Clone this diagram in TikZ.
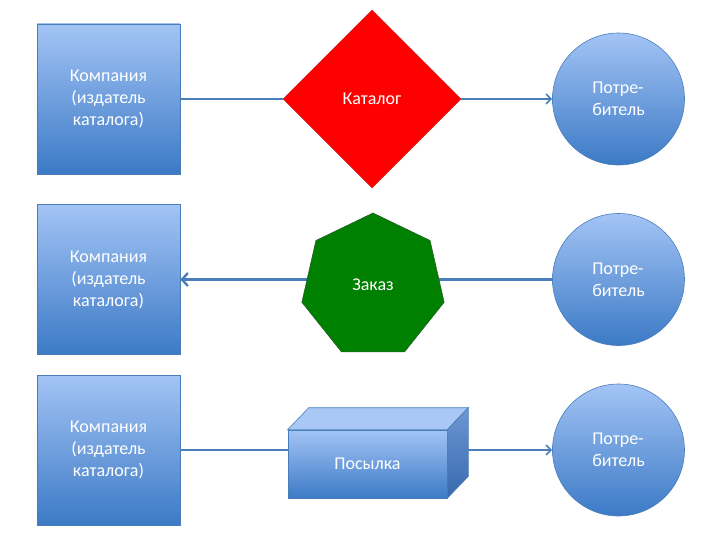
\documentclass[tikz,border=0pt]{standalone}
\usepackage{fontspec}
\setmainfont{Carlito}
\usetikzlibrary{shapes.geometric,arrows.meta,calc}
\definecolor{gtop}{RGB}{163,196,245}
\definecolor{gbot}{RGB}{60,122,198}
\definecolor{edgeblue}{RGB}{74,126,187}
\definecolor{lineblue}{RGB}{74,126,187}
\definecolor{boxtop}{RGB}{170,200,245}
\definecolor{sidetop}{RGB}{110,150,210}
\definecolor{sidebot}{RGB}{55,105,175}
\definecolor{diared}{RGB}{255,0,0}
\definecolor{diaedge}{RGB}{200,30,30}
\definecolor{hepgreen}{RGB}{0,128,0}
\definecolor{hepedge}{RGB}{40,90,40}
\tikzset{
  txt/.style={font=\fontsize{18}{22}\selectfont, text=white},
  company/.style={txt, rectangle, draw=edgeblue, line width=0.6pt, top color=gtop, bottom color=gbot,
    minimum width=143pt, minimum height=150pt, inner sep=0pt, align=center},
  consumer/.style={txt, circle, draw=edgeblue, line width=0.6pt, top color=gtop, bottom color=gbot,
    minimum size=132pt, inner sep=0pt, align=left},
  conn/.style={draw=lineblue, line width=1.8pt},
  tip/.style={-{Straight Barb[length=5pt,width=10pt,line width=1.6pt]}},
}
\begin{document}
\begin{tikzpicture}[x=1pt,y=-1pt]
\useasboundingbox (0,0) rectangle (720,540);
\fill[white] (0,0) rectangle (720,540);

% companies
\node[company] (comp1) at (108.5,99) {Компания\\(издатель\\каталога)};
\node[company] (comp2) at (108.5,279.5) {Компания\\(издатель\\каталога)};
\node[company] (comp3) at (108.5,450) {Компания\\(издатель\\каталога)};

% consumers
\node[consumer] (cons1) at (618.5,99) {Потре-\\битель};
\node[consumer] (cons2) at (618.5,279.5) {Потре-\\битель};
\node[consumer] (cons3) at (618.5,450) {Потре-\\битель};

% catalog diamond
\node[txt, diamond, aspect=1, fill=diared, draw=diaedge, line width=0.5pt,
  minimum width=178pt, minimum height=178pt, inner sep=0pt] (dia) at (372,99) {Каталог};

% parcel box (front face)
\node[txt, rectangle, draw=edgeblue, line width=0.6pt, top color=gtop, bottom color=gbot,
  minimum width=159pt, minimum height=68pt, inner sep=0pt] (box) at (367.5,464) {Посылка};
\fill[boxtop, draw=edgeblue, line width=0.6pt]
  (box.north west) -- ++(21,-22) -- ($(box.north east)+(21,-22)$) -- (box.north east) -- cycle;
\shade[top color=sidetop, bottom color=sidebot, draw=edgeblue, line width=0.6pt]
  (box.north east) -- ++(21,-22) -- ($(box.south east)+(21,-22)$) -- (box.south east) -- cycle;
\coordinate (boxback) at ($(box.east)+(21,0)$);

% connectors
\draw[conn] (comp1.east) -- (dia.west);
\draw[conn, tip] (dia.east) -- (cons1.west);

\draw[conn, line width=3.2pt, -{Straight Barb[length=6pt,width=13pt,line width=2.4pt]}] (cons2.west) -- (comp2.east);

\draw[conn] (comp3.east) -- (comp3.east -| box.west);
\draw[conn, tip] (cons3.west -| boxback) -- (cons3.west);

% order heptagon
\node[txt, regular polygon, regular polygon sides=7, fill=hepgreen,
  draw=hepedge, line width=0.5pt, minimum size=146pt, inner sep=0pt] (hep) at (373,286) {};
\node[txt] (hepl) at (373,285) {Заказ};
\end{tikzpicture}
\end{document}
